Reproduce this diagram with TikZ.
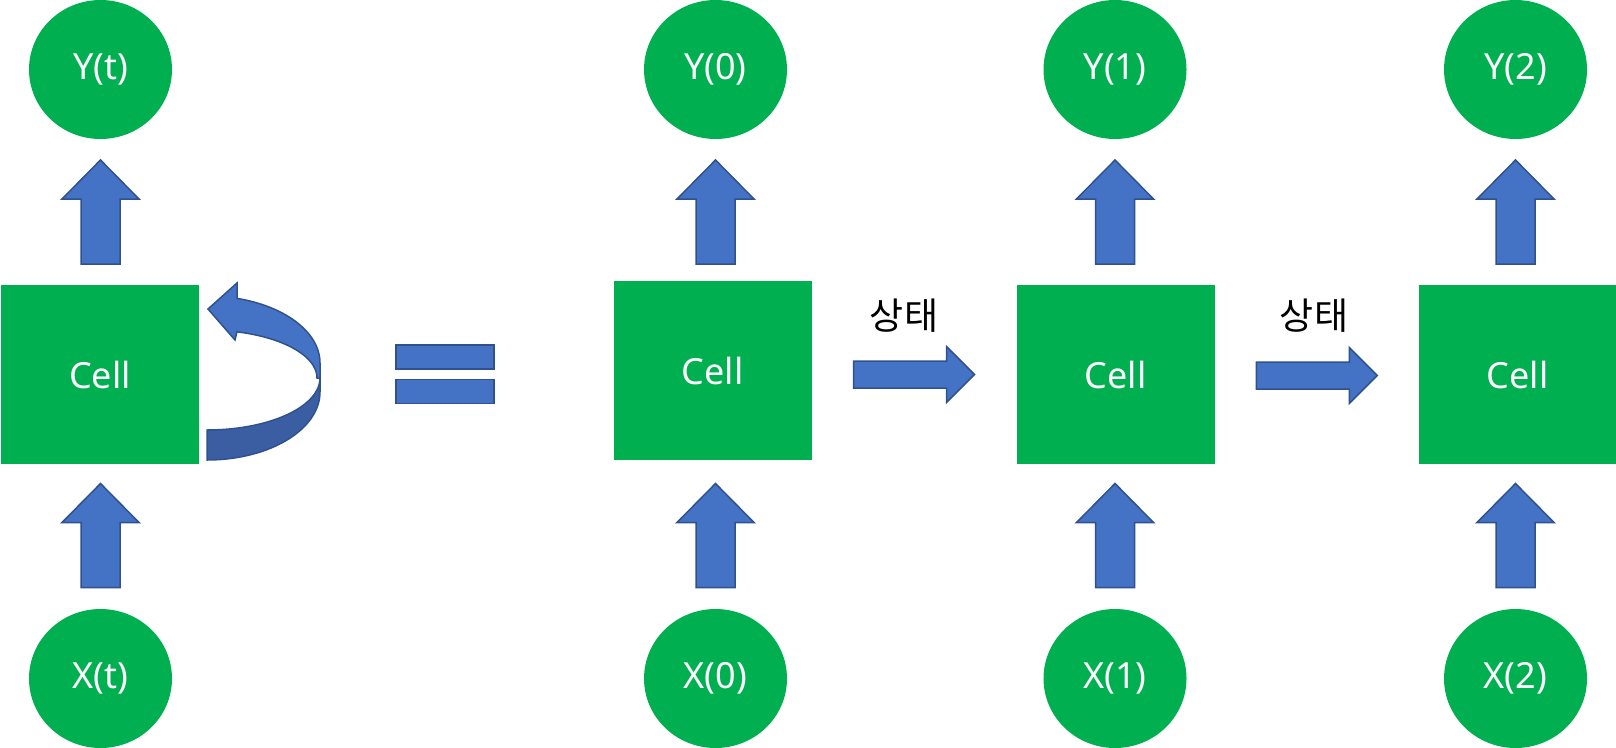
\documentclass[tikz,border=0pt]{standalone}
\usepackage{fontspec}
\setmainfont{Noto Sans}
\newfontfamily\krfont{Noto Sans CJK KR}
\usetikzlibrary{shapes.geometric,calc}
\definecolor{grn}{HTML}{00B050}
\definecolor{blu}{HTML}{4472C4}
\definecolor{bluedge}{HTML}{2F528F}
\definecolor{bludark}{HTML}{3A5EA1}
\tikzset{
  cellbox/.style={rectangle, fill=grn, minimum width=198pt, minimum height=179pt, inner sep=0pt, text=white, font=\fontsize{36}{40}\selectfont},
  iobox/.style={ellipse, fill=grn, minimum width=143pt, minimum height=139pt, inner sep=0pt, text=white, font=\fontsize{36}{40}\selectfont},
  blockarrow/.style={fill=blu, draw=bluedge, line width=1.5pt, line join=miter},
  eqbar/.style={rectangle, fill=blu, draw=bluedge, line width=1.5pt, minimum width=98pt, minimum height=24pt, inner sep=0pt},
  lbl/.style={font=\krfont\fontsize{37}{40}\selectfont, text=black, inner sep=0pt},
  uparr/.pic={\path[blockarrow] (0,-52) -- (38.5,-13) -- (19.5,-13) -- (19.5,52) -- (-19.5,52) -- (-19.5,-13) -- (-38.5,-13) -- cycle;},
  rightarr/.pic={\path[blockarrow] (-60.5,-13.5) -- (32.5,-13.5) -- (32.5,-28) -- (60.5,0) -- (32.5,28) -- (32.5,13.5) -- (-60.5,13.5) -- cycle;}
}
\begin{document}
\begin{tikzpicture}[x=1pt,y=-1pt]
\path[use as bounding box] (0,0) rectangle (1616,747);

% cells
\node[cellbox] (c1) at (100,374.5) {Cell};
\node[cellbox] (c2) at (712.5,370.5) {Cell};
\node[cellbox] (c3) at (1115.5,374.5) {Cell};
\node[cellbox, minimum width=197pt] (c4) at (1517.5,374.5) {Cell};

% outputs
\node[iobox] (y1) at (100.5,69.5) {Y(t)};
\node[iobox] (y2) at (715.5,69.5) {Y(0)};
\node[iobox] (y3) at (1115,69.5) {Y(1)};
\node[iobox] (y4) at (1515.5,69.5) {Y(2)};

% inputs
\node[iobox] (x1) at (100.5,678.5) {X(t)};
\node[iobox] (x2) at (715.5,678.5) {X(0)};
\node[iobox] (x3) at (1115,678.5) {X(1)};
\node[iobox] (x4) at (1515.5,678.5) {X(2)};

% vertical block arrows
\pic at (100.5,212) {uparr};
\pic at (715.5,212) {uparr};
\pic at (1115,212) {uparr};
\pic at (1515.5,212) {uparr};
\pic at (100.5,535.5) {uparr};
\pic at (715.5,535.5) {uparr};
\pic at (1115,535.5) {uparr};
\pic at (1515.5,535.5) {uparr};

% state arrows
\pic at ($(c2.east)!0.5!(c3.west)+(0,2)$) {rightarr};
\pic at ($(c3.east)!0.5!(c4.west)+(0,1)$) {rightarr};
\node[lbl] (s1) at (904,316) {상태};
\node[lbl] (s2) at (1314,316) {상태};

% equals sign
\node[eqbar] (eq1) at (445,357) {};
\node[eqbar] (eq2) at (445,391.5) {};

% curved (recurrent) arrow
\path[fill=bludark, draw=bluedge, line width=1.5pt]
  (207,430) -- (207,460)
  -- plot[domain=90:0, samples=40, variable=\t] ({207+113*cos(\t)},{392+68*sin(\t)})
  -- (320,378)
  -- plot[domain=0:90, samples=40, variable=\t] ({207+113*cos(\t)},{378+52*sin(\t)})
  -- cycle;
\path[fill=blu, draw=bluedge, line width=1.5pt, line join=miter]
  (208,309) -- (237,283) -- (237,298.4)
  -- plot[domain=-74.6:0, samples=40, variable=\t] ({207+113*cos(\t)},{363+67*sin(\t)})
  -- (320,378)
  -- plot[domain=0:-74.2, samples=40, variable=\t] ({207+110*cos(\t)},{378+48*sin(\t)})
  -- (235,340) -- cycle;
\end{tikzpicture}
\end{document}
